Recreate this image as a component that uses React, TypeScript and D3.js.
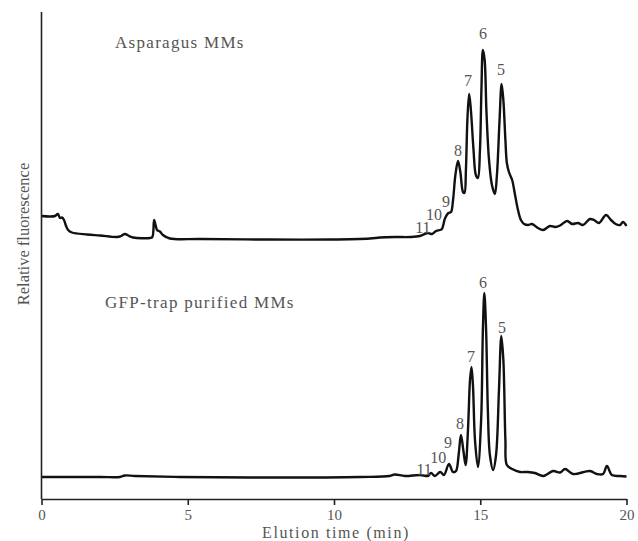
import React, { useEffect, useRef } from 'react';
import * as d3 from 'd3';

const svgWidth = 638;
const svgHeight = 541;
const plotLeft = 41.5;
const plotRight = 626.5;
const plotTop = 12;
const plotBottom = 499;

// elution time (min), relative fluorescence (arbitrary units, top trace is offset)
const asparagusTrace: [number, number][] = [
  [0, 28.3], [0.29, 28.25], [0.46, 28.3], [0.56, 28.5], [0.63, 28.1], [0.7, 28.15],
  [0.77, 27.9], [0.84, 27.3], [0.91, 26.9], [1.04, 26.65], [1.56, 26.45], [2.0, 26.35],
  [2.58, 26.2], [2.72, 26.3], [2.85, 26.5], [2.99, 26.3], [3.13, 26.15], [3.71, 26.1],
  [3.79, 26.2], [3.85, 27.9], [3.9, 27.4], [3.95, 26.9], [4.05, 26.75], [4.15, 26.4],
  [4.39, 26.05], [5.42, 26.0], [7.47, 25.95], [9.86, 25.95], [11.23, 26.05], [11.57, 26.15],
  [12.08, 26.2], [12.6, 26.2], [12.94, 26.3], [13.21, 26.6], [13.35, 26.5], [13.49, 26.8],
  [13.62, 26.9], [13.69, 27.0], [13.8, 28.1], [13.91, 28.6], [14.0, 28.7], [14.07, 29.9],
  [14.15, 32.4], [14.24, 33.8], [14.32, 32.7], [14.41, 30.7], [14.46, 30.6], [14.51, 32.9],
  [14.56, 37.9], [14.62, 40.5], [14.68, 38.9], [14.77, 34.9], [14.85, 32.4], [14.92, 32.1],
  [14.99, 34.9], [15.04, 40.9], [15.09, 44.9], [15.15, 43.9], [15.21, 38.9], [15.3, 33.9],
  [15.4, 31.4], [15.5, 30.5], [15.57, 32.4], [15.66, 37.9], [15.73, 41.5], [15.79, 39.9],
  [15.86, 35.9], [15.91, 33.6], [15.98, 32.7], [16.09, 31.9], [16.19, 30.4], [16.29, 28.9],
  [16.39, 27.9], [16.5, 27.5], [16.63, 27.4], [16.77, 27.5], [16.97, 27.1], [17.15, 26.9],
  [17.38, 27.3], [17.56, 27.2], [17.73, 27.35], [17.97, 27.8], [18.14, 27.5], [18.34, 27.6],
  [18.51, 27.4], [18.75, 28.0], [18.89, 27.9], [19.06, 27.6], [19.3, 28.4], [19.47, 27.9],
  [19.63, 27.5], [19.78, 27.4], [19.88, 27.7], [20.0, 27.3],
];

const gfpTrace: [number, number][] = [
  [0, 2.2], [2.0, 2.2], [2.68, 2.2], [2.85, 2.35], [3.2, 2.3], [4.73, 2.2], [7.47, 2.15],
  [10.9, 2.2], [11.9, 2.3], [12.08, 2.45], [12.42, 2.3], [12.94, 2.4], [13.21, 2.3],
  [13.32, 2.6], [13.45, 2.3], [13.63, 2.7], [13.76, 2.4], [13.93, 3.5], [14.07, 2.7],
  [14.17, 2.8], [14.26, 4.4], [14.34, 6.4], [14.43, 4.7], [14.5, 3.4], [14.58, 6.9],
  [14.65, 11.9], [14.7, 13.2], [14.75, 11.4], [14.82, 5.9], [14.92, 3.2], [15.03, 7.9],
  [15.09, 16.9], [15.14, 20.6], [15.2, 16.9], [15.26, 8.9], [15.33, 4.4], [15.44, 2.9],
  [15.54, 4.4], [15.64, 10.9], [15.72, 16.3], [15.79, 13.9], [15.86, 5.9], [15.91, 3.4],
  [16.09, 3.0], [16.36, 2.7], [16.63, 2.7], [16.87, 2.6], [17.15, 2.3], [17.49, 2.8],
  [17.73, 2.65], [17.9, 3.0], [18.17, 2.5], [18.75, 2.8], [18.99, 2.5], [19.2, 2.5],
  [19.33, 3.3], [19.5, 2.4], [19.78, 2.3], [20.0, 2.25],
];

// peak number, time, label height
const asparagusPeaks: [string, number, number][] = [
  ['6', 15.09, 46.6], ['7', 14.58, 41.9], ['5', 15.71, 43.0], ['8', 14.24, 34.9],
  ['9', 13.83, 29.8], ['10', 13.42, 28.5], ['11', 13.04, 27.2],
];
const gfpPeaks: [string, number, number][] = [
  ['6', 15.09, 21.7], ['5', 15.74, 17.2], ['7', 14.68, 14.3], ['8', 14.31, 7.6],
  ['9', 13.9, 5.7], ['10', 13.56, 4.2], ['11', 13.08, 3.0],
];

const xTicks = [0, 5, 10, 15, 20];
const font = '"Liberation Serif", "Times New Roman", serif';
const textColor = '#555';

const App = () => {
  const chartRef = useRef<SVGSVGElement | null>(null);

  useEffect(() => {
    document.body.style.margin = '0';
    if (!chartRef.current) return;
    const svg = d3.select(chartRef.current);
    svg.selectAll('*').remove();

    const x = d3.scaleLinear().domain([0, 20]).range([plotLeft, plotRight]);
    const y = d3.scaleLinear().domain([0, 48.7]).range([plotBottom, plotTop]);

    const line = d3
      .line<[number, number]>()
      .x(d => x(d[0]))
      .y(d => y(d[1]))
      .curve(d3.curveCatmullRom.alpha(0.5));

    [asparagusTrace, gfpTrace].forEach(trace => {
      svg
        .append('path')
        .attr('d', line(trace))
        .attr('fill', 'none')
        .attr('stroke', '#111')
        .attr('stroke-width', 2.4)
        .attr('stroke-linejoin', 'round');
    });

    // y axis, no ticks
    svg
      .append('line')
      .attr('x1', plotLeft)
      .attr('x2', plotLeft)
      .attr('y1', plotTop)
      .attr('y2', plotBottom)
      .attr('stroke', '#222')
      .attr('stroke-width', 1.6);

    const xAxis = svg
      .append('g')
      .attr('transform', `translate(0, ${plotBottom})`)
      .call(d3.axisBottom(x).tickValues(xTicks).tickSize(6).tickSizeOuter(0).tickPadding(4.5));
    xAxis.select('.domain').attr('stroke', '#222').attr('stroke-width', 1.6);
    xAxis.selectAll('.tick line').attr('stroke', '#222').attr('stroke-width', 1.6);
    xAxis
      .selectAll('.tick text')
      .attr('fill', textColor)
      .style('font-family', font)
      .style('font-size', '15px');

    svg
      .append('text')
      .attr('x', 336)
      .attr('y', 538)
      .attr('text-anchor', 'middle')
      .attr('fill', textColor)
      .style('font-family', font)
      .style('font-size', '16px')
      .style('letter-spacing', '1.6px')
      .text('Elution time (min)');

    svg
      .append('text')
      .attr('transform', 'translate(29, 234) rotate(-90)')
      .attr('text-anchor', 'middle')
      .attr('fill', textColor)
      .style('font-family', font)
      .style('font-size', '16.5px')
      .text('Relative fluorescence');

    const titles: [string, number, number][] = [
      ['Asparagus MMs', 115, 48],
      ['GFP-trap purified MMs', 105, 308],
    ];
    titles.forEach(([t, tx, ty]) => {
      svg
        .append('text')
        .attr('x', tx)
        .attr('y', ty)
        .attr('fill', textColor)
        .style('font-family', font)
        .style('font-size', '17px')
        .style('letter-spacing', '1.3px')
        .text(t);
    });

    [...asparagusPeaks, ...gfpPeaks].forEach(([label, t, v]) => {
      svg
        .append('text')
        .attr('x', x(t))
        .attr('y', y(v))
        .attr('dy', '0.35em')
        .attr('text-anchor', 'middle')
        .attr('fill', textColor)
        .style('font-family', font)
        .style('font-size', '16px')
        .text(label);
    });
  }, []);

  return <svg ref={chartRef} width={svgWidth} height={svgHeight} style={{ display: 'block', background: '#fff' }} />;
};

export default App;
